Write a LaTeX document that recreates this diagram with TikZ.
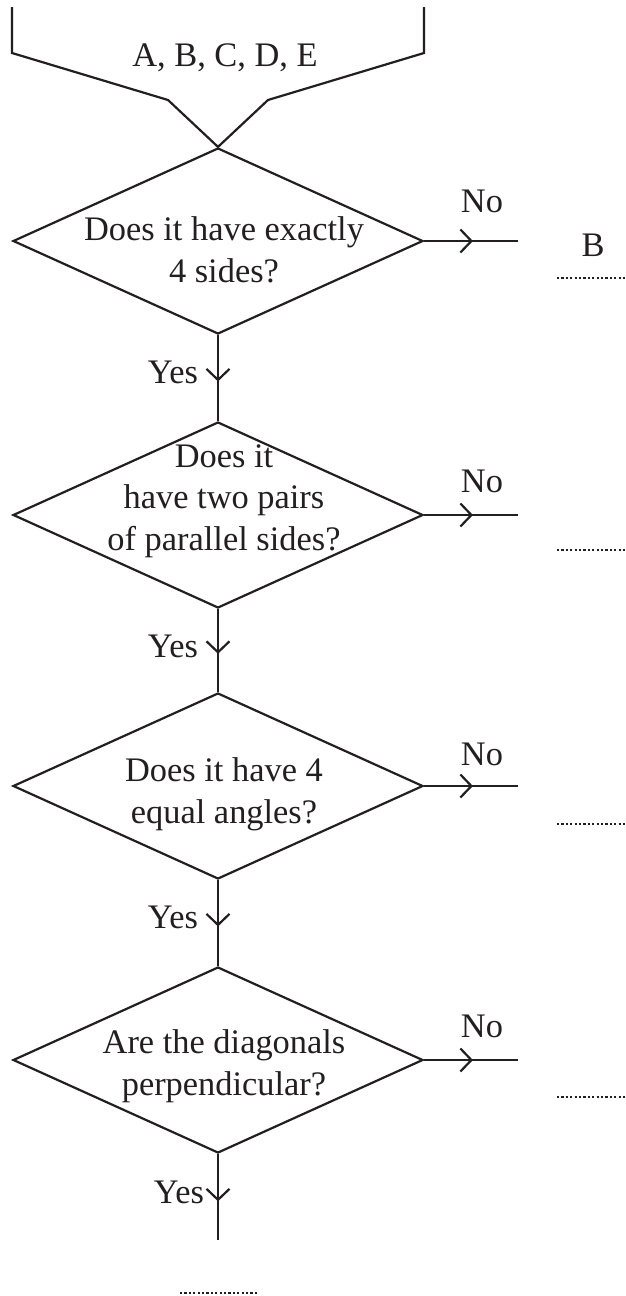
\documentclass[tikz,border=0pt]{standalone}
\usepackage{fontspec}
\setmainfont{Liberation Serif}
\usetikzlibrary{shapes.geometric,arrows.meta,decorations.markings}
\definecolor{ink}{RGB}{35,31,32}
\begin{document}
\begin{tikzpicture}[x=1pt,y=-1pt,
  every node/.style={font=\fontsize{34.4}{41.3}\selectfont, text=ink, inner sep=0pt},
  dia/.style={draw=ink, diamond, minimum width=410pt, minimum height=186pt, inner sep=0pt, line width=2.2pt},
  flow/.style={draw=ink, line width=2.2pt},
  midarrow/.style={postaction={decorate}, decoration={markings, mark=at position #1 with {\arrow{Straight Barb[length=11pt,width=23pt,line width=2.2pt]}}}},
  blank/.style={draw=ink, line width=1.4pt, dash pattern=on 2.2pt off 2.2pt}]
\fill[white] (0,0) rectangle (626,1296);
\useasboundingbox (0,0) rectangle (626,1296);

% diamonds
\node[dia] (d1) at (218,241) {};
\node[dia] (d2) at (218,515) {};
\node[dia] (d3) at (218,786) {};
\node[dia] (d4) at (218,1060) {};

% texts in diamonds (base = baseline of last line)
\node[anchor=base, align=center] (t1) at (224,282) {Does it have exactly\\4 sides?};
\node[anchor=base, align=center] (t2) at (224,550) {Does it\\have two pairs\\of parallel sides?};
\node[anchor=base, align=center] (t3) at (224,823) {Does it have 4\\equal angles?};
\node[anchor=base, align=center] (t4) at (224,1095) {Are the diagonals\\perpendicular?};

% funnel
\coordinate (fl0) at (12,7);
\coordinate (fl1) at (12,53);
\coordinate (fl2) at (168,100);
\coordinate (fr0) at (424,7);
\coordinate (fr1) at (424,53);
\coordinate (fr2) at (268,100);
\draw[flow] (fl0) -- (fl1) -- (fl2) -- (d1.north) -- (fr2) -- (fr1) -- (fr0);
\node[anchor=base] (shapes) at (225,66) {A, B, C, D, E};

% yes connectors
\coordinate (yend) at (218,1240);
\draw[flow, midarrow=0.54] (d1.south) -- (d2.north);
\draw[flow, midarrow=0.54] (d2.south) -- (d3.north);
\draw[flow, midarrow=0.54] (d3.south) -- (d4.north);
\draw[flow, midarrow=0.55] (d4.south) -- (yend);
\node[anchor=base] (y1) at (173,383) {Yes};
\node[anchor=base] (y2) at (173,657) {Yes};
\node[anchor=base] (y3) at (173,928) {Yes};
\node[anchor=base] (y4) at (179,1203) {Yes};

% no connectors
\coordinate (n1) at (518,241);
\coordinate (n2) at (518,515);
\coordinate (n3) at (518,786);
\coordinate (n4) at (518,1060);
\draw[flow, midarrow=0.52] (d1.east) -- (n1);
\draw[flow, midarrow=0.52] (d2.east) -- (n2);
\draw[flow, midarrow=0.52] (d3.east) -- (n3);
\draw[flow, midarrow=0.52] (d4.east) -- (n4);
\node[anchor=base] (no1) at (482,212) {No};
\node[anchor=base] (no2) at (482,492) {No};
\node[anchor=base] (no3) at (482,765) {No};
\node[anchor=base] (no4) at (482,1037) {No};

% answers
\node[anchor=base] (b1) at (593,256) {B};
\draw[blank] (557,278) -- (626,278);
\draw[blank] (557,550) -- (626,550);
\draw[blank] (557,824) -- (626,824);
\draw[blank] (557,1097) -- (626,1097);
\draw[blank] (180,1293) -- (257,1293);
\end{tikzpicture}
\end{document}
